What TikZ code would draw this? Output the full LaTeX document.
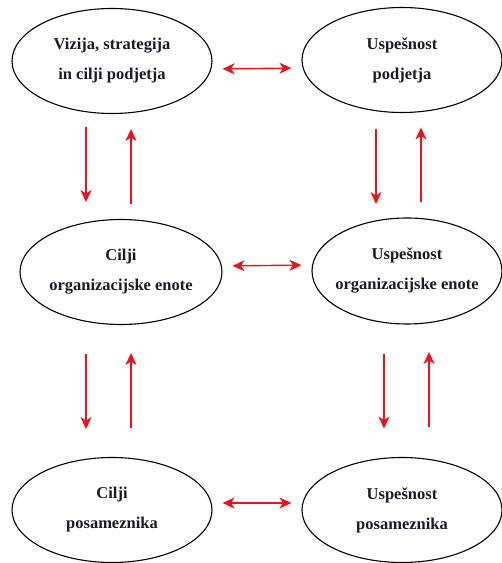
\documentclass[tikz,border=0pt]{standalone}
\usepackage{fontspec}
\setmainfont{Liberation Serif}
\usepackage{xcolor}
\usetikzlibrary{arrows.meta, positioning, shapes.geometric}
\definecolor{linkred}{RGB}{232,20,30}
\definecolor{textdark}{RGB}{25,25,40}

\tikzset{
  goal/.style={draw, ellipse, line width=1.1pt, inner xsep=-6pt, inner ysep=0pt,
    minimum width=200pt, minimum height=105pt, align=center,
    font=\fontsize{16.5}{30}\selectfont\bfseries, text=textdark},
  link/.style={draw=linkred, line width=1.4pt,
    -{Stealth[length=12pt, width=11pt, inset=3.5pt]}},
  both/.style={draw=linkred, line width=1.4pt,
    {Stealth[length=12pt, width=11pt, inset=3.5pt]}-{Stealth[length=12pt, width=11pt, inset=3.5pt]},
    shorten <=10pt, shorten >=10pt}
}

\begin{document}
\begin{tikzpicture}[x=1pt, y=1pt]
    \useasboundingbox (0,0) rectangle (502,563);

    % Company level
    \node[goal] (vizija) at (112,502) {Vizija, strategija\\in cilji podjetja};
    \node[goal] (uspPodjetja) at (402,503) {Uspešnost\\podjetja};

    % Unit level
    \node[goal, minimum width=202pt] (ciljiEnote) at (121,291) {Cilji\\organizacijske enote};
    \node[goal, minimum width=190pt, minimum height=106pt] (uspEnote) at (407,292) {Uspešnost\\organizacijske enote};

    % Individual level
    \node[goal] (ciljiPos) at (112,53) {Cilji\\posameznika};
    \node[goal] (uspPos) at (402,53) {Uspešnost\\posameznika};

    % Horizontal links
    \draw[both] ([yshift=-8pt]vizija.east) -- ([yshift=-8pt]uspPodjetja.west);
    \draw[both] ([yshift=6pt]ciljiEnote.east) -- ([yshift=6pt]uspEnote.west);
    \draw[both] ([yshift=7pt]ciljiPos.east) -- ([yshift=7pt]uspPos.west);

    % Vertical links, left
    \draw[link] ([xshift=-26pt, yshift=-13pt]vizija.south) -- ++(0,-75);
    \draw[link] ([xshift=10pt, yshift=15pt]ciljiEnote.north) -- ++(0,75);
    \draw[link] ([xshift=-35pt, yshift=-29pt]ciljiEnote.south) -- ++(0,-75);
    \draw[link] ([xshift=19pt, yshift=29pt]ciljiPos.north) -- ++(0,75);

    % Vertical links, right
    \draw[link] ([xshift=-26pt, yshift=-16pt]uspPodjetja.south) -- ++(0,-75);
    \draw[link] ([xshift=14pt, yshift=15pt]uspEnote.north) -- ++(0,75);
    \draw[link] ([xshift=-23pt, yshift=-29pt]uspEnote.south) -- ++(0,-75);
    \draw[link] ([xshift=27pt, yshift=30pt]uspPos.north) -- ++(0,75);
\end{tikzpicture}
\end{document}
